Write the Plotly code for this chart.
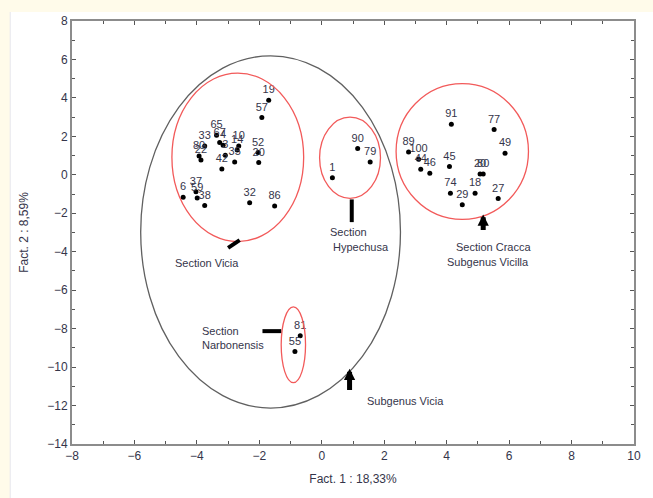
import plotly.graph_objects as go

# Factor scores of the accessions on the first two factors
point_labels = [
    "19", "57", "65", "33", "67", "4", "3", "80", "22", "10", "14", "52", "20",
    "35", "42", "6", "37", "59", "38", "32", "86",
    "1", "90", "79",
    "91", "77", "49", "89", "100", "44", "46", "45", "20", "80", "74", "18", "29", "27",
    "81", "55",
]
fact1 = [
    -1.70, -1.92, -3.37, -3.75, -3.27, -3.16, -3.09, -3.93, -3.87, -2.66, -2.71, -2.04, -2.02,
    -2.79, -3.20, -4.44, -4.03, -3.99, -3.75, -2.31, -1.51,
    0.34, 1.15, 1.55,
    4.15, 5.52, 5.87, 2.78, 3.10, 3.17, 3.46, 4.09, 5.07, 5.17, 4.12, 4.91, 4.50, 5.65,
    -0.69, -0.86,
]
fact2 = [
    3.88, 2.98, 2.06, 1.50, 1.68, 1.54, 1.02, 0.98, 0.77, 1.50, 1.29, 1.16, 0.64,
    0.67, 0.30, -1.17, -0.88, -1.21, -1.59, -1.45, -1.62,
    -0.15, 1.37, 0.67,
    2.63, 2.36, 1.12, 1.19, 0.81, 0.29, 0.08, 0.43, 0.04, 0.04, -0.96, -0.96, -1.56, -1.23,
    -8.37, -9.19,
]

# Group envelopes: centre x, centre y, half-width, half-height
group_names = ["Vicia", "Hypechusa", "Cracca", "Narbonensis", "Subgenus Vicia"]
group_cx = [-2.69, 0.905, 4.50, -0.91, -1.64]
group_cy = [0.91, 0.886, 1.21, -8.84, -2.97]
group_rx = [2.11, 0.975, 2.12, 0.39, 4.16]
group_ry = [4.38, 2.11, 3.53, 1.97, 9.16]
group_colors = ["#f25a5a", "#f25a5a", "#f25a5a", "#f25a5a", "#606060"]

# Pointer bars (x0, y0, x1, y1)
bar_x0 = [-3.00, 0.96, -1.90]
bar_y0 = [-3.80, -1.28, -8.13]
bar_x1 = [-2.63, 0.96, -1.30]
bar_y1 = [-3.40, -2.46, -8.13]

# Upward arrows: x, tail y, head y
arrow_x = [5.17, 0.89]
arrow_tail = [-2.95, -11.27]
arrow_head = [-2.06, -10.09]

# Group captions: text, x, y, anchor
caption_text = ["Section Vicia", "Section", "Hypechusa", "Section Cracca",
                "Subgenus Vicilla", "Section<br>Narbonensis", "Subgenus Vicia"]
caption_x = [-3.69, 0.19, 0.31, 4.25, 3.96, -3.90, 1.37]
caption_y = [-4.61, -2.95, -3.73, -3.73, -4.51, -8.47, -11.74]
caption_anchor = ["center", "left", "left", "left", "left", "left", "left"]

x_range = [-8, 10]
y_range = [-14, 8]

W, H = 653, 498
ml, mr, mt, mb = 72, 17, 21, 54
pw, ph = W - ml - mr, H - mt - mb

text_color = "#35354a"
font_family = "Liberation Sans, Arial, sans-serif"

fig = go.Figure()

fig.add_trace(go.Scatter(
    x=fact1, y=fact2, mode="markers+text", text=point_labels,
    textposition="top center",
    textfont=dict(size=11, color=text_color, family=font_family),
    marker=dict(size=5, color="black"),
    hoverinfo="skip", showlegend=False, cliponaxis=False,
))

shapes = []
# page border band and white card
shapes.append(dict(type="rect", xref="paper", yref="paper",
                   x0=(10 - ml) / pw, x1=(W - ml) / pw + 0.01,
                   y0=-(H - mt - ph) / ph - 0.01, y1=(ph + mt - 12) / ph,
                   fillcolor="white", line=dict(width=0), layer="below"))
shapes.append(dict(type="line", xref="paper", yref="paper",
                   x0=(10 - ml) / pw, x1=(10 - ml) / pw,
                   y0=-(H - mt - ph) / ph - 0.01, y1=(ph + mt - 12) / ph,
                   line=dict(color="#e6e6ee", width=1), layer="below"))

for cx, cy, rx, ry, col in zip(group_cx, group_cy, group_rx, group_ry, group_colors):
    shapes.append(dict(type="circle", xref="x", yref="y",
                       x0=cx - rx, x1=cx + rx, y0=cy - ry, y1=cy + ry,
                       line=dict(color=col, width=1.3), layer="above"))

for x0, y0, x1, y1 in zip(bar_x0, bar_y0, bar_x1, bar_y1):
    shapes.append(dict(type="line", xref="x", yref="y",
                       x0=x0, y0=y0, x1=x1, y1=y1,
                       line=dict(color="black", width=4)))

annotations = []
for ax_, t, h in zip(arrow_x, arrow_tail, arrow_head):
    annotations.append(dict(x=ax_, y=h, ax=ax_, ay=t, xref="x", yref="y",
                            axref="x", ayref="y", text="", showarrow=True,
                            arrowhead=2, arrowsize=0.45, arrowwidth=5,
                            arrowcolor="black", standoff=0))

for t, x, y, a in zip(caption_text, caption_x, caption_y, caption_anchor):
    annotations.append(dict(x=x, y=y, xref="x", yref="y", text=t, showarrow=False,
                            xanchor=a, yanchor="middle", align="left",
                            font=dict(size=11, color=text_color, family=font_family)))

fig.update_layout(
    width=W, height=H,
    margin=dict(l=ml, r=mr, t=mt, b=mb),
    paper_bgcolor="#fffbea",
    plot_bgcolor="white",
    shapes=shapes,
    annotations=annotations,
    font=dict(family=font_family, size=12, color=text_color),
    showlegend=False,
)

axis_common = dict(
    showgrid=False, zeroline=False, showline=True, linecolor="#8c8c8c", linewidth=2,
    mirror="allticks", ticks="inside", ticklen=4, tickcolor="#555555", tickwidth=1,
    minor=dict(ticks="inside", ticklen=3, tickcolor="#555555", dtick=1),
    tickfont=dict(size=12, color=text_color, family=font_family),
)

fig.update_xaxes(range=x_range, dtick=2, tick0=-8,
                 title=dict(text="Fact. 1 : 18,33%", standoff=12,
                            font=dict(size=12, color=text_color)),
                 **axis_common)
fig.update_yaxes(range=y_range, dtick=2, tick0=-14,
                 title=dict(text="Fact. 2 : 8,59%", standoff=16,
                            font=dict(size=12, color=text_color)),
                 **axis_common)

fig.write_html("out.html")
